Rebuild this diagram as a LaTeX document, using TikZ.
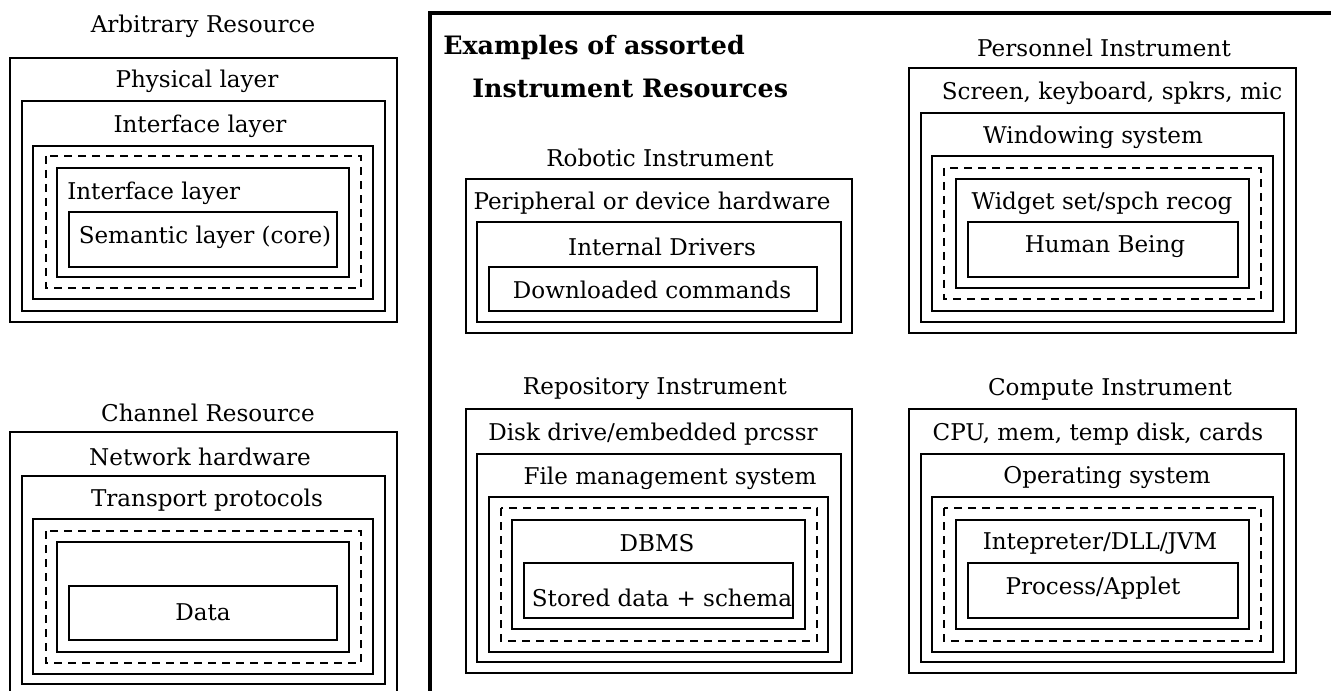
\documentclass[tikz,border=0pt]{standalone}
\usepackage{fontspec}
\setmainfont{DejaVu Serif}
\begin{document}
\begin{tikzpicture}[x=0.75pt,y=-0.75pt,
  box/.style={draw,line width=1.4pt},
  dbox/.style={draw,line width=1.3pt,dash pattern=on 6pt off 4.5pt},
  frame/.style={draw,line width=2.8pt},
  lbl/.style={inner sep=0pt,font=\fontsize{17.3pt}{20pt}\selectfont},
  ttl/.style={inner sep=0pt,anchor=west,font=\fontsize{19pt}{22pt}\selectfont\bfseries}]
\clip (0,0) rectangle (1331,691);
\fill[white] (0,0) rectangle (1331,691);

% ---- Arbitrary resource ----
\node[lbl] (arbT) at (203,26) {Arbitrary Resource};
\draw[box] (10,58) rectangle (397,322);
\node[lbl] (arbPhy) at (197,81) {Physical layer};
\draw[box] (22,101) rectangle (385,311);
\node[lbl] (arbIf1) at (200,126) {Interface layer};
\draw[box] (33,146) rectangle (373,299);
\draw[dbox] (46,156) rectangle (361,288);
\draw[box] (57,168) rectangle (349,277);
\node[lbl,anchor=west] (arbIf2) at (67,193) {Interface layer};
\draw[box] (69,212) rectangle (337,267);
\node[lbl] (arbSem) at (205,237) {Semantic layer (core)};

% ---- Channel resource ----
\node[lbl] (chT) at (208,413) {Channel Resource};
\draw[box] (10,432) rectangle (397,710);
\node[lbl] (chNet) at (200,457) {Network hardware};
\draw[box] (22,476) rectangle (385,684);
\node[lbl] (chTr) at (207,500) {Transport protocols};
\draw[box] (33,519) rectangle (373,674);
\draw[dbox] (46,531) rectangle (361,663);
\draw[box] (57,542) rectangle (349,652);
\draw[box] (69,586) rectangle (337,640);
\node[lbl] (chData) at (203,612) {Data};

% ---- Instrument examples frame ----
\draw[frame] (430,710) -- (430,13) -- (1345,13);
\node[ttl] (exA) at (443,48) {Examples of assorted};
\node[ttl] (exB) at (472,88) {Instrument Resources};

% ---- Robotic instrument ----
\node[lbl] (robT) at (660,158) {Robotic Instrument};
\draw[box] (466,179) rectangle (852,333);
\node[lbl] (robHw) at (652,203) {Peripheral or device hardware};
\draw[box] (477,222) rectangle (841,322);
\node[lbl] (robDrv) at (662,247) {Internal Drivers};
\draw[box] (489,267) rectangle (817,311);
\node[lbl] (robCmd) at (652,290) {Downloaded commands};

% ---- Personnel instrument ----
\node[lbl] (perT) at (1104,48) {Personnel Instrument};
\draw[box] (909,68) rectangle (1296,333);
\node[lbl] (perHw) at (1112,93) {Screen, keyboard, spkrs, mic};
\draw[box] (921,113) rectangle (1284,322);
\node[lbl] (perWin) at (1093,137) {Windowing system};
\draw[box] (932,156) rectangle (1273,311);
\draw[dbox] (944,168) rectangle (1261,299);
\draw[box] (956,179) rectangle (1249,288);
\node[lbl] (perWid) at (1102,203) {Widget set/spch recog};
\draw[box] (968,222) rectangle (1238,277);
\node[lbl] (perHum) at (1105,247) {Human Being};

% ---- Repository instrument ----
\node[lbl] (repT) at (655,389) {Repository Instrument};
\draw[box] (466,409) rectangle (852,673);
\node[lbl] (repHw) at (653,434) {Disk drive/embedded prcssr};
\draw[box] (477,454) rectangle (841,662);
\node[lbl] (repFs) at (670,478) {File management system};
\draw[box] (489,497) rectangle (828,652);
\draw[dbox] (501,508) rectangle (817,641);
\draw[box] (512,520) rectangle (805,629);
\node[lbl] (repDb) at (657,543) {DBMS};
\draw[box] (524,563) rectangle (793,618);
\node[lbl] (repSt) at (662,598) {Stored data + schema};

% ---- Compute instrument ----
\node[lbl] (cmpT) at (1110,389) {Compute Instrument};
\draw[box] (909,409) rectangle (1296,673);
\node[lbl] (cmpHw) at (1098,434) {CPU, mem, temp disk, cards};
\draw[box] (921,454) rectangle (1284,662);
\node[lbl] (cmpOs) at (1107,478) {Operating system};
\draw[box] (932,497) rectangle (1273,652);
\draw[dbox] (944,508) rectangle (1261,641);
\draw[box] (956,520) rectangle (1249,629);
\node[lbl] (cmpVm) at (1100,543) {Intepreter/DLL/JVM};
\draw[box] (968,563) rectangle (1238,618);
\node[lbl] (cmpPr) at (1093,588) {Process/Applet};
\end{tikzpicture}
\end{document}
